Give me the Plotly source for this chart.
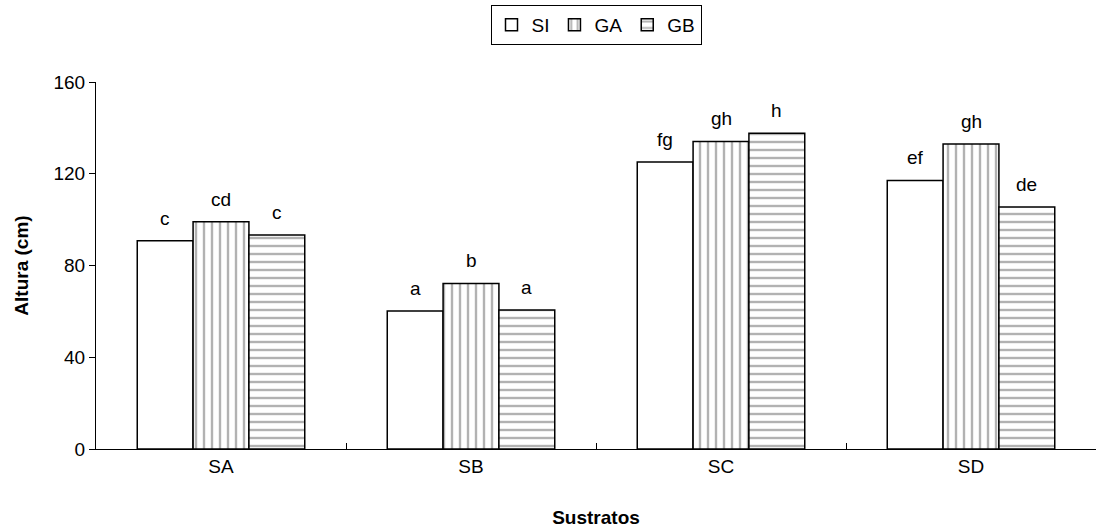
import plotly.graph_objects as go

categories = ["SA", "SB", "SC", "SD"]
series_names = ["SI", "GA", "GB"]
si_values = [90.8, 60.2, 125.1, 117.1]
ga_values = [99.1, 72.2, 134.1, 133.0]
gb_values = [93.3, 60.6, 137.7, 105.5]
si_labels = ["c", "a", "fg", "ef"]
ga_labels = ["cd", "b", "gh", "gh"]
gb_labels = ["c", "a", "h", "de"]
y_ticks = [0, 40, 80, 120, 160]

values = [si_values, ga_values, gb_values]
labels = [si_labels, ga_labels, gb_labels]
patterns = ["", "|", "-"]

FONT = "Liberation Sans, Arial, sans-serif"
FS = 19

fig = go.Figure()
for name, vals, pat in zip(series_names, values, patterns):
    marker = dict(color="white", line=dict(color="black", width=1.5))
    if pat:
        marker["pattern"] = dict(shape=pat, fgcolor="#666666", bgcolor="white",
                                 size=8, solidity=0.3)
    fig.add_trace(go.Bar(name=name, x=categories, y=vals, marker=marker))

# letter annotations above each bar
W, H = 1097, 531
L, R, T, B = 96, 1, 82, 82
plot_w = W - L - R
bar_w = plot_w / len(categories) * 0.67 / 3
for k, (vals, labs) in enumerate(zip(values, labels)):
    for cat, v, lab in zip(categories, vals, labs):
        fig.add_annotation(x=cat, y=v, text=lab, showarrow=False,
                           xshift=(k - 1) * bar_w, yshift=10, yanchor="bottom",
                           font=dict(family=FONT, size=FS, color="black"))

fig.update_layout(
    width=W, height=H,
    margin=dict(l=L, r=R, t=T, b=B, autoexpand=False),
    paper_bgcolor="white", plot_bgcolor="white",
    barmode="group", bargap=0.33, bargroupgap=0,
    font=dict(family=FONT, size=FS, color="black"),
    legend=dict(orientation="h", x=0.5, xanchor="center", y=1.21, yanchor="top",
                bordercolor="black", borderwidth=1, bgcolor="white",
                font=dict(size=FS), itemwidth=30, tracegroupgap=0),
    showlegend=True,
)
fig.update_xaxes(
    automargin=False,
    showline=True, linecolor="black", linewidth=1,
    ticks="inside", tickson="boundaries", ticklen=6, tickcolor="black",
    tickfont=dict(size=FS),
    title=dict(text="<b>Sustratos</b>", font=dict(size=FS), standoff=34),
)
fig.update_yaxes(
    automargin=False,
    range=[0, 160], tickvals=y_ticks,
    showline=True, linecolor="black", linewidth=1,
    ticks="outside", ticklen=6, tickcolor="black",
    showgrid=False, zeroline=False,
    tickfont=dict(size=FS),
    title=dict(text="<b>Altura (cm)</b>", font=dict(size=FS), standoff=19),
)
fig.write_html("out.html", config={"displayModeBar": False},
               post_script="document.body.style.margin='0';")
